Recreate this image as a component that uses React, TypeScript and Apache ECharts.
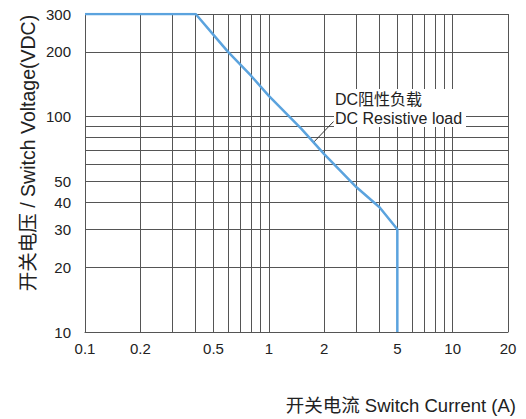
import React, { useEffect, useRef } from "react";
import * as echarts from "echarts";

// Switch current (A) grid lines and labels
const currentGridLines = [0.1, 0.2, 0.3, 0.4, 0.5, 0.6, 0.7, 0.8, 0.9, 1, 2, 3, 4, 5, 6, 7, 8, 9, 10, 20];
const currentTickLabels = [0.1, 0.2, 0.5, 1, 2, 5, 10, 20];

// Switch voltage (VDC) grid lines and labels
const voltageGridLines = [10, 20, 30, 40, 50, 60, 70, 80, 90, 100, 200, 300];
const voltageTickLabels = [10, 20, 30, 40, 50, 100, 200, 300];

// DC resistive load curve: current (A) and voltage (VDC)
const curveCurrent = [0.1, 0.4, 0.5, 0.6, 0.8, 1, 1.5, 2, 3, 4, 5, 5];
const curveVoltage = [300, 300, 240, 200, 155, 125, 88, 67, 47, 38, 30, 10];

// annotation leader line: from a point on the curve toward the label
const leaderFrom = [1.75, 76];
const leaderTo = [2.25, 95];

const FONT = "'Liberation Sans', Arial, 'Noto Sans CJK SC', sans-serif";

export default function App() {
  const ref = useRef<HTMLDivElement>(null);

  useEffect(() => {
    if (!ref.current) return;
    const chart = echarts.init(ref.current, undefined, { renderer: "svg" });
    const fmt = (v: number) => String(+Number(v).toPrecision(3));
    chart.setOption({
      animation: false,
      backgroundColor: "#fff",
      textStyle: { fontFamily: FONT },
      grid: { left: 85, right: 18, top: 14, bottom: 87, containLabel: false },
      xAxis: {
        type: "log",
        logBase: 10,
        min: 0.1,
        max: 20,
        axisLine: { show: true, lineStyle: { color: "#555", width: 1 } },
        axisTick: { show: false, customValues: currentGridLines },
        axisLabel: {
          customValues: currentTickLabels,
          formatter: fmt,
          margin: 9,
          fontSize: 15,
          color: "#222",
          fontFamily: FONT,
          showMinLabel: true,
          showMaxLabel: true,
        },
        splitLine: { show: true, lineStyle: { color: "#555", width: 1 } },
      },
      yAxis: {
        type: "log",
        logBase: 10,
        min: 10,
        max: 300,
        axisLine: { show: true, lineStyle: { color: "#555", width: 1 } },
        axisTick: { show: false, customValues: voltageGridLines },
        axisLabel: {
          customValues: voltageTickLabels,
          formatter: fmt,
          margin: 14,
          fontSize: 15,
          color: "#222",
          fontFamily: FONT,
          showMinLabel: true,
          showMaxLabel: true,
        },
        splitLine: { show: true, lineStyle: { color: "#555", width: 1 } },
      },
      series: [
        {
          type: "line",
          data: curveCurrent.map((c, i) => [c, curveVoltage[i]]),
          symbol: "none",
          lineStyle: { color: "#5ba3de", width: 2.5 },
          z: 5,
          markLine: {
            silent: true,
            symbol: ["none", "none"],
            label: { show: false },
            lineStyle: { color: "#333", width: 1, type: "solid" },
            data: [[{ coord: leaderFrom }, { coord: leaderTo }]],
          },
        },
      ],
      graphic: [
        {
          type: "rect",
          shape: { x: 334, y: 89, width: 132, height: 38 },
          style: { fill: "#fff" },
          z: 10,
        },
        {
          type: "text",
          x: 335,
          y: 99,
          z: 11,
          style: {
            text: "DC阻性负载",
            font: `16px ${FONT}`,
            fill: "#222",
            textAlign: "left",
            textVerticalAlign: "middle",
          },
        },
        {
          type: "text",
          x: 335,
          y: 118,
          z: 11,
          style: {
            text: "DC Resistive load",
            font: `16px ${FONT}`,
            fill: "#222",
            textAlign: "left",
            textVerticalAlign: "middle",
          },
        },
        {
          type: "text",
          x: 28,
          y: 153,
          rotation: Math.PI / 2,
          style: {
            text: "开关电压 / Switch Voltage(VDC)",
            font: `19.5px ${FONT}`,
            fill: "#222",
            textAlign: "center",
            textVerticalAlign: "middle",
          },
        },
        {
          type: "text",
          x: 516,
          y: 405,
          style: {
            text: "开关电流 Switch Current (A)",
            font: `18.5px ${FONT}`,
            fill: "#222",
            textAlign: "right",
            textVerticalAlign: "middle",
          },
        },
      ],
    });
    return () => chart.dispose();
  }, []);

  return (
    <div
      ref={ref}
      style={{ position: "fixed", left: 0, top: 0, width: 526, height: 419 }}
    />
  );
}
